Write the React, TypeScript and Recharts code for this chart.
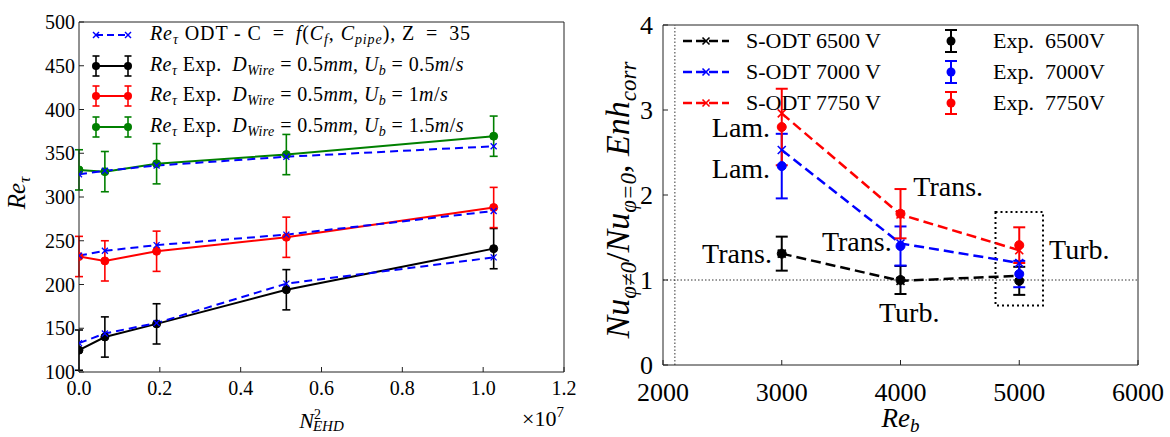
// @ts-nocheck
import React from 'react'
import {
  ComposedChart, Line, XAxis, YAxis, ErrorBar, Legend, Label,
  ReferenceLine, ReferenceArea, ReferenceDot,
} from 'recharts'

const SERIF = "'Liberation Serif', 'Times New Roman', Times, 'DejaVu Serif', serif"
const FRAME = '#222'

// left panel: Re_tau vs N_EHD^2 (x 1e7)
const nEhd2 = [0, 0.064, 0.192, 0.513, 1.026]
const odtU05 = [133, 144, 156, 201, 231]
const expU05 = [125, 140, 155, 194, 241]
const errU05 = [23, 23, 23, 23, 23]
const odtU1 = [233, 238.5, 245, 257, 284]
const expU1 = [232, 227, 238, 254, 288]
const errU1 = [23, 23, 23, 23, 23]
const odtU15 = [326, 330, 336, 346, 358]
const expU15 = [331, 329, 338, 348.5, 369.5]
const errU15 = [23, 23, 23, 23, 23]
const leftXTicks = [0, 0.2, 0.4, 0.6, 0.8, 1.0, 1.2]
const leftYTicks = [100, 150, 200, 250, 300, 350, 400, 450, 500]

// right panel: Nu ratio vs Re_b
const reB = [3000, 4000, 5000]
const sodt6500 = [1.31, 0.99, 1.05]
const sodt7000 = [2.53, 1.43, 1.2]
const sodt7750 = [2.96, 1.77, 1.35]
const exp6500 = [1.31, 1.0, 0.99]
const exp7000 = [2.34, 1.4, 1.07]
const exp7750 = [2.8, 1.78, 1.41]
const err6500 = [0.2, 0.165, 0.165]
const err7000 = [0.38, 0.23, 0.155]
const err7750 = [0.45, 0.29, 0.21]
const rightXTicks = [2000, 3000, 4000, 5000, 6000]
const rightYTicks = [0, 1, 2, 3, 4]
const laminarLimit = 2100
const turbBox = { x1: 4800, x2: 5200, y1: 0.7, y2: 1.8 }
const regimeNotes = [
  { text: 'Lam.', re: 2902, nu: 2.79, anchor: 'end' },
  { text: 'Lam.', re: 2902, nu: 2.31, anchor: 'end' },
  { text: 'Trans.', re: 2917, nu: 1.31, anchor: 'end' },
  { text: 'Trans.', re: 4108, nu: 2.1, anchor: 'start' },
  { text: 'Trans.', re: 3926, nu: 1.45, anchor: 'end' },
  { text: 'Turb.', re: 4073, nu: 0.615, anchor: 'middle' },
  { text: 'Turb.', re: 5251, nu: 1.36, anchor: 'start' },
]

const leftRows = nEhd2.map((n, i) => ({
  n,
  odtU05: odtU05[i], expU05: expU05[i], errU05: errU05[i],
  odtU1: odtU1[i], expU1: expU1[i], errU1: errU1[i],
  odtU15: odtU15[i], expU15: expU15[i], errU15: errU15[i],
}))

const rightRows = reB.map((re, i) => ({
  re,
  sodt6500: sodt6500[i], sodt7000: sodt7000[i], sodt7750: sodt7750[i],
  exp6500: exp6500[i], exp7000: exp7000[i], exp7750: exp7750[i],
  err6500: err6500[i], err7000: err7000[i], err7750: err7750[i],
}))

const BLUE = '#0000ff'
const RED = '#ff0000'
const GREEN = '#008000'
const BLACK = '#000000'

const xDot = (color, s = 3.5, w = 1.5) => (p) => {
  const { cx, cy, key } = p
  if (cx == null || cy == null) return <g key={key} />
  return (
    <g key={key}>
      <line x1={cx - s} y1={cy - s} x2={cx + s} y2={cy + s} stroke={color} strokeWidth={w} />
      <line x1={cx - s} y1={cy + s} x2={cx + s} y2={cy - s} stroke={color} strokeWidth={w} />
    </g>
  )
}

const Sub = ({ children }) => (
  <span style={{ fontSize: '70%', verticalAlign: '-0.3em', fontStyle: 'italic' }}>{children}</span>
)
const I = ({ children }) => <span style={{ fontStyle: 'italic' }}>{children}</span>

// ---------- legends ----------
function OdtHandle({ color }) {
  return (
    <svg width={44} height={30}>
      <line x1={6} y1={15} x2={38} y2={15} stroke={color} strokeWidth={2} strokeDasharray="7 4" />
      {xDot(color, 3, 1.4)({ cx: 6, cy: 15, key: 'a' })}
      {xDot(color, 3, 1.4)({ cx: 38, cy: 15, key: 'b' })}
    </svg>
  )
}

function ExpHandle({ color }) {
  return (
    <svg width={44} height={30}>
      <line x1={6} y1={15} x2={38} y2={15} stroke={color} strokeWidth={2} />
      {[6, 38].map(x => (
        <g key={x}>
          <line x1={x} y1={5} x2={x} y2={25} stroke={color} strokeWidth={1.6} />
          <line x1={x - 3.5} y1={5} x2={x + 3.5} y2={5} stroke={color} strokeWidth={1.6} />
          <line x1={x - 3.5} y1={25} x2={x + 3.5} y2={25} stroke={color} strokeWidth={1.6} />
          <circle cx={x} cy={15} r={4} fill={color} />
        </g>
      ))}
    </svg>
  )
}

const expText = (u) => (
  <>
    <I>Re</I><Sub>τ</Sub> Exp.&nbsp; <I>D</I><Sub>Wire</Sub> = 0.5<I>mm</I>, <I>U</I><Sub>b</Sub> = {u}<I>m</I>/<I>s</I>
  </>
)

const leftLegendRows = [
  {
    handle: <OdtHandle color={BLUE} />, spacing: 0.9,
    text: <><I>Re</I><Sub>τ</Sub> ODT - C{'\u2002'}={'\u2002'}<I>f</I>(<I>C</I><Sub>f</Sub>, <I>C</I><Sub>pipe</Sub>), Z{'\u2002'}={'\u2002'}35</>,
  },
  { handle: <ExpHandle color={BLACK} />, spacing: 0.4, text: expText('0.5') },
  { handle: <ExpHandle color={RED} />, spacing: 0.4, text: expText('1') },
  { handle: <ExpHandle color={GREEN} />, spacing: 0.4, text: expText('1.5') },
]

function LeftLegend() {
  return (
    <div style={{ fontFamily: SERIF, fontSize: 20, color: '#000', lineHeight: 1 }}>
      {leftLegendRows.map((r, i) => (
        <div key={i} style={{ display: 'flex', alignItems: 'center', height: 30.6, whiteSpace: 'nowrap' }}>
          {r.handle}
          <span style={{ marginLeft: 16, letterSpacing: r.spacing }}>{r.text}</span>
        </div>
      ))}
    </div>
  )
}

function SodtHandle({ color }) {
  return (
    <svg width={46} height={30}>
      <line x1={0} y1={15} x2={46} y2={15} stroke={color} strokeWidth={2.4} strokeDasharray="9 4" />
      {xDot(color, 3.5, 1.6)({ cx: 23, cy: 15, key: 'm' })}
    </svg>
  )
}

function ErrHandle({ color }) {
  return (
    <svg width={20} height={30}>
      <line x1={10} y1={4} x2={10} y2={26} stroke={color} strokeWidth={2} />
      <line x1={4} y1={4} x2={16} y2={4} stroke={color} strokeWidth={2} />
      <line x1={4} y1={26} x2={16} y2={26} stroke={color} strokeWidth={2} />
      <circle cx={10} cy={15} r={4.5} fill={color} />
    </svg>
  )
}

const rightLegendRows = [
  { color: BLACK, sodt: 'S-ODT 6500 V', exp: 'Exp.  6500V' },
  { color: BLUE, sodt: 'S-ODT 7000 V', exp: 'Exp.  7000V' },
  { color: RED, sodt: 'S-ODT 7750 V', exp: 'Exp.  7750V' },
]

function RightLegend() {
  return (
    <div style={{ position: 'relative', fontFamily: SERIF, fontSize: 22, color: '#000', lineHeight: 1, height: 95 }}>
      {rightLegendRows.map((r, i) => (
        <React.Fragment key={i}>
          <div style={{ position: 'absolute', left: 0, top: i * 31, height: 30, display: 'flex', alignItems: 'center', whiteSpace: 'pre' }}>
            <SodtHandle color={r.color} />
            <span style={{ marginLeft: 17 }}>{r.sodt}</span>
          </div>
          <div style={{ position: 'absolute', left: 258, top: i * 31, height: 30, display: 'flex', alignItems: 'center', whiteSpace: 'pre' }}>
            <ErrHandle color={r.color} />
            <span style={{ marginLeft: 32 }}>{r.exp}</span>
          </div>
        </React.Fragment>
      ))}
    </div>
  )
}

// ---------- axis labels ----------
const leftXLabel = ({ viewBox }) => {
  const cx = viewBox.x + viewBox.width / 2
  const y = viewBox.y + 56
  return (
    <text x={cx} y={y} textAnchor="middle" fontFamily={SERIF} fontSize={22} fill="#000">
      <tspan fontStyle="italic">N</tspan>
      <tspan fontSize={14} dy={-9}>2</tspan>
      <tspan fontSize={15} fontStyle="italic" dx={-8} dy={12}>EHD</tspan>
    </text>
  )
}

const leftXScale = ({ viewBox }) => (
  <text x={viewBox.x + viewBox.width} y={viewBox.y + 54} textAnchor="end" fontFamily={SERIF} fontSize={22} fill="#000">
    ×10<tspan fontSize={15} dy={-9}>7</tspan>
  </text>
)

const leftYLabel = ({ viewBox }) => {
  const x = 25
  const y = viewBox.y + viewBox.height / 2 - 4
  return (
    <text x={x} y={y} transform={`rotate(-90 ${x} ${y})`} textAnchor="middle" fontFamily={SERIF} fontSize={25} fill="#000">
      <tspan fontStyle="italic">Re</tspan>
      <tspan fontStyle="italic" fontSize={17} dy={5}>τ</tspan>
    </text>
  )
}

const rightXLabel = ({ viewBox }) => (
  <text x={viewBox.x + viewBox.width / 2} y={viewBox.y + 62} textAnchor="middle" fontFamily={SERIF} fontSize={27} fill="#000">
    <tspan fontStyle="italic">Re</tspan>
    <tspan fontStyle="italic" fontSize={19} dy={5}>b</tspan>
  </text>
)

const rightYLabel = ({ viewBox }) => {
  const x = 39
  const y = viewBox.y + viewBox.height / 2 + 5
  return (
    <text x={x} y={y} transform={`rotate(-90 ${x} ${y})`} textAnchor="middle" fontFamily={SERIF} fontSize={34} fill="#000">
      <tspan fontStyle="italic">Nu</tspan>
      <tspan fontStyle="italic" fontSize={23} dy={7}>φ≠0</tspan>
      <tspan dy={-7}>/</tspan>
      <tspan fontStyle="italic">Nu</tspan>
      <tspan fontStyle="italic" fontSize={23} dy={7}>φ=0</tspan>
      <tspan dy={-7}>, </tspan>
      <tspan fontStyle="italic">Enh</tspan>
      <tspan fontStyle="italic" fontSize={23} dy={7}>corr</tspan>
    </text>
  )
}

const tickStyle = (size) => ({ fill: '#000', fontSize: size, fontFamily: SERIF })

function LeftChart() {
  return (
    <ComposedChart width={600} height={437} data={leftRows} margin={{ top: 0, right: 0, bottom: 0, left: 0 }}
      style={{ fontFamily: SERIF }}>
      <XAxis dataKey="n" type="number" domain={[0, 1.2]} ticks={leftXTicks} interval={0} allowDataOverflow
        tickFormatter={v => v.toFixed(1)} height={65} tickSize={-5} tickMargin={14}
        stroke={FRAME} tick={tickStyle(20)}>
        <Label content={leftXLabel} />
        <Label content={leftXScale} />
      </XAxis>
      <XAxis xAxisId="top" orientation="top" type="number" domain={[0, 1.2]} ticks={leftXTicks} interval={0}
        allowDataOverflow height={22} tickSize={-5} tick={false} stroke={FRAME} />
      <YAxis type="number" domain={[100, 500]} ticks={leftYTicks} interval={0} allowDataOverflow
        width={79} tickSize={-5} tickMargin={9} stroke={FRAME} tick={tickStyle(20)}>
        <Label content={leftYLabel} />
      </YAxis>
      <YAxis yAxisId="right" orientation="right" type="number" domain={[100, 500]} ticks={leftYTicks}
        interval={0} allowDataOverflow width={36} tickSize={-5} tick={false} stroke={FRAME} />

      {[['odtU05', 'expU05', 'errU05', BLACK], ['odtU1', 'expU1', 'errU1', RED], ['odtU15', 'expU15', 'errU15', GREEN]].map(([odt, exp, err, color]) => (
        <React.Fragment key={odt}>
          <Line dataKey={exp} stroke={color} strokeWidth={2} isAnimationActive={false}
            dot={{ r: 4, fill: color, stroke: color, strokeWidth: 1 }} activeDot={false}>
            <ErrorBar dataKey={err} direction="y" width={4} stroke={color} strokeWidth={1.6} />
          </Line>
          <Line dataKey={odt} stroke={BLUE} strokeWidth={2} strokeDasharray="8 5" isAnimationActive={false}
            dot={xDot(BLUE, 3, 1.3)} activeDot={false} />
        </React.Fragment>
      ))}

      <Legend layout="vertical" align="center" verticalAlign="middle" content={() => <LeftLegend />}
        wrapperStyle={{ left: 90, top: 20, width: 470, height: 125 }} />
    </ComposedChart>
  )
}

function RightChart() {
  return (
    <ComposedChart width={580} height={437} data={rightRows} margin={{ top: 0, right: 0, bottom: 0, left: 0 }}
      style={{ fontFamily: SERIF }}>
      <XAxis dataKey="re" type="number" domain={[2000, 6000]} ticks={rightXTicks} interval={0} allowDataOverflow
        height={72} tickSize={-5} tickMargin={23} stroke={FRAME} tick={tickStyle(26)}>
        <Label content={rightXLabel} />
      </XAxis>
      <XAxis xAxisId="top" orientation="top" type="number" domain={[2000, 6000]} ticks={rightXTicks} interval={0}
        allowDataOverflow height={25} tickSize={-5} tick={false} stroke={FRAME} />
      <YAxis type="number" domain={[0, 4]} ticks={rightYTicks} interval={0} allowDataOverflow
        width={73} tickSize={-5} tickMargin={15} stroke={FRAME} tick={tickStyle(26)}>
        <Label content={rightYLabel} />
      </YAxis>
      <YAxis yAxisId="right" orientation="right" type="number" domain={[0, 4]} ticks={rightYTicks}
        interval={0} allowDataOverflow width={32} tickSize={-5} tick={false} stroke={FRAME} />

      <ReferenceLine x={laminarLimit} stroke="#333" strokeWidth={1} strokeDasharray="1.5 2" />
      <ReferenceLine y={1} stroke="#333" strokeWidth={1} strokeDasharray="1.5 2" />
      <ReferenceArea x1={turbBox.x1} x2={turbBox.x2} y1={turbBox.y1} y2={turbBox.y2}
        stroke="#000" strokeWidth={2} strokeDasharray="2 3" fill="none" fillOpacity={0} />

      {[['sodt6500', BLACK], ['sodt7000', BLUE], ['sodt7750', RED]].map(([k, color]) => (
        <Line key={k} dataKey={k} stroke={color} strokeWidth={2.5} strokeDasharray="10 5" isAnimationActive={false}
          dot={xDot(color, 4, 1.6)} activeDot={false} />
      ))}
      {[['exp6500', 'err6500', BLACK], ['exp7000', 'err7000', BLUE], ['exp7750', 'err7750', RED]].map(([k, e, color]) => (
        <Line key={k} dataKey={k} stroke="none" isAnimationActive={false}
          dot={{ r: 4.5, fill: color, stroke: color, strokeWidth: 1 }} activeDot={false}>
          <ErrorBar dataKey={e} direction="y" width={6} stroke={color} strokeWidth={2} />
        </Line>
      ))}

      {regimeNotes.map((n, i) => (
        <ReferenceDot key={i} x={n.re} y={n.nu} r={0}
          shape={(p) => (
            <text x={p.cx} y={p.cy} textAnchor={n.anchor} dominantBaseline="central"
              fontFamily={SERIF} fontSize={28} fill="#000">{n.text}</text>
          )} />
      ))}

      <Legend layout="vertical" align="center" verticalAlign="middle" content={() => <RightLegend />}
        wrapperStyle={{ left: 93, top: 26, width: 460, height: 95 }} />
    </ComposedChart>
  )
}

export default function App() {
  return (
    <div style={{ position: 'absolute', left: 0, top: 0, width: 1170, height: 437, background: '#fff', overflow: 'hidden', fontFamily: SERIF }}>
      <div style={{ position: 'absolute', left: 0, top: 0 }}>
        <LeftChart />
      </div>
      <div style={{ position: 'absolute', left: 590, top: 0 }}>
        <RightChart />
      </div>
    </div>
  )
}
